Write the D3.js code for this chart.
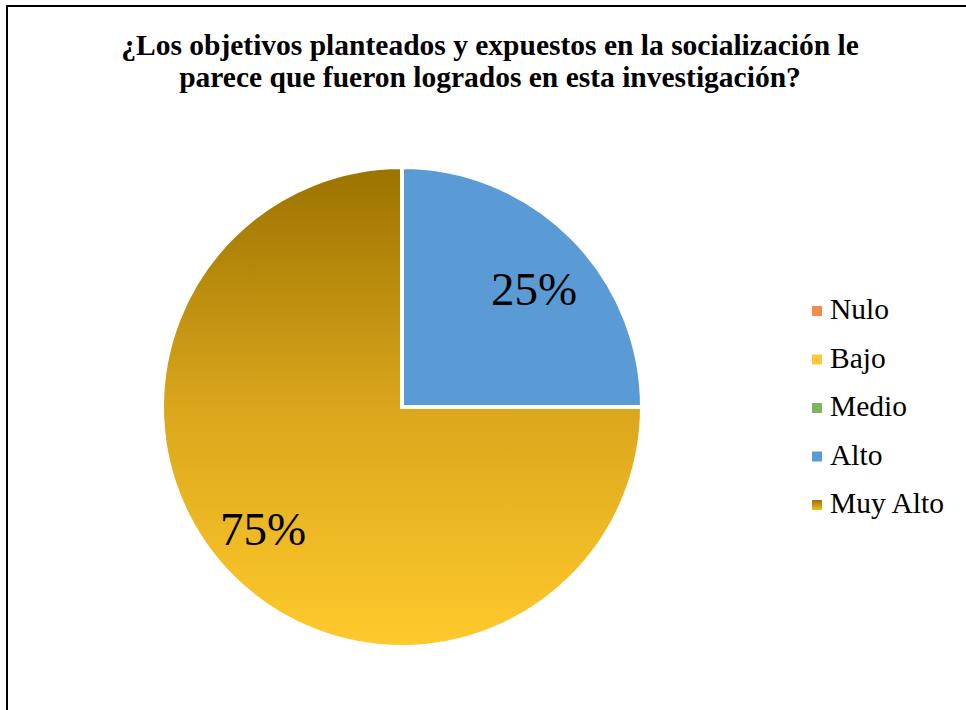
<!DOCTYPE html>
<html>
<head>
<meta charset="utf-8">
<script src="https://cdn.jsdelivr.net/npm/d3@7"></script>
<style>
  html, body { margin: 0; padding: 0; background: #fff; }
  svg { display: block; }
  svg text { font-family: "Liberation Serif", "Times New Roman", Times, serif; }
</style>
</head>
<body>
<svg width="966" height="710"></svg>
<script>
// chart data
const categories = ["Nulo", "Bajo", "Medio", "Alto", "Muy Alto"];
const values = [0, 0, 0, 25, 75];
const title_lines = [
  "¿Los objetivos planteados y expuestos en la socialización le",
  "parece que fueron logrados en esta investigación?"
];

const width = 966;
const height = 710;
const cx = 402, cy = 407, radius = 240;

const svg = d3.select("svg");

// gradients (Muy Alto goes dark gold at top -> yellow at bottom)
const defs = svg.append("defs");
const grad = defs.append("linearGradient")
  .attr("id", "muyalto")
  .attr("gradientUnits", "userSpaceOnUse")
  .attr("x1", 0).attr("x2", 0)
  .attr("y1", -radius).attr("y2", radius);
grad.append("stop").attr("offset", "0%").attr("stop-color", "#9b7300");
grad.append("stop").attr("offset", "50%").attr("stop-color", "#daa61c");
grad.append("stop").attr("offset", "100%").attr("stop-color", "#ffca2c");

const swatch = defs.append("linearGradient")
  .attr("id", "muyalto-key")
  .attr("x1", 0).attr("x2", 0).attr("y1", 0).attr("y2", 1);
swatch.append("stop").attr("offset", "0%").attr("stop-color", "#9b7300");
swatch.append("stop").attr("offset", "100%").attr("stop-color", "#f2bd22");

const color = d3.scaleOrdinal(categories,
  ["#ed7d31", "#ffc000", "#70ad47", "#5b9bd5", "url(#muyalto)"]);
const key_color = d3.scaleOrdinal(categories,
  ["#f08c4f", "#ffc83a", "#7cb55a", "#5b9bd5", "url(#muyalto-key)"]);

// frame
svg.append("rect")
  .attr("x", 7).attr("y", 6)
  .attr("width", width + 20).attr("height", height + 20)
  .attr("fill", "none")
  .attr("stroke", "#000")
  .attr("stroke-width", 2);

// title
svg.append("text")
  .attr("x", 490)
  .attr("y", 55)
  .attr("text-anchor", "middle")
  .attr("font-weight", "bold")
  .attr("font-size", 29.5)
  .selectAll("tspan")
  .data(title_lines)
  .join("tspan")
    .attr("x", 490)
    .attr("dy", (d, i) => i ? 32 : 0)
    .text(d => d);

// pie
const pie = d3.pie().sort(null).value(d => d.value);
const arcs = pie(categories.map((c, i) => ({ name: c, value: values[i] })));
const arc = d3.arc().innerRadius(0).outerRadius(radius);

const g = svg.append("g").attr("transform", `translate(${cx},${cy})`);
g.selectAll("path")
  .data(arcs.filter(d => d.data.value > 0))
  .join("path")
    .attr("d", arc)
    .attr("fill", d => color(d.data.name))
    .attr("stroke", "#fff")
    .attr("stroke-width", 4)
    .attr("stroke-linejoin", "miter");

// percentage labels
const label_arc = d3.arc().innerRadius(radius * 0.66).outerRadius(radius * 0.66);
const label_offset = { "Alto": [20, 10], "Muy Alto": [-27, 26] };
g.selectAll("text.pct")
  .data(arcs.filter(d => d.data.value > 0))
  .join("text")
    .attr("class", "pct")
    .attr("x", d => label_arc.centroid(d)[0] + (label_offset[d.data.name] || [0, 0])[0])
    .attr("y", d => label_arc.centroid(d)[1] + (label_offset[d.data.name] || [0, 0])[1])
    .attr("text-anchor", "middle")
    .attr("font-size", 47)
    .attr("fill", "#000")
    .text(d => `${Math.round(d.data.value / d3.sum(values) * 100)}%`);

// legend
const legend_y = d3.scalePoint(categories, [311, 505]);
const legend = svg.append("g").selectAll("g")
  .data(categories)
  .join("g")
    .attr("transform", d => `translate(812,${legend_y(d)})`);
legend.append("rect")
  .attr("x", 0).attr("y", -5)
  .attr("width", 10).attr("height", 10)
  .attr("fill", d => key_color(d));
legend.append("text")
  .attr("x", 18)
  .attr("y", 8)
  .attr("font-size", 29.5)
  .attr("fill", "#000")
  .text(d => d);
</script>
</body>
</html>
